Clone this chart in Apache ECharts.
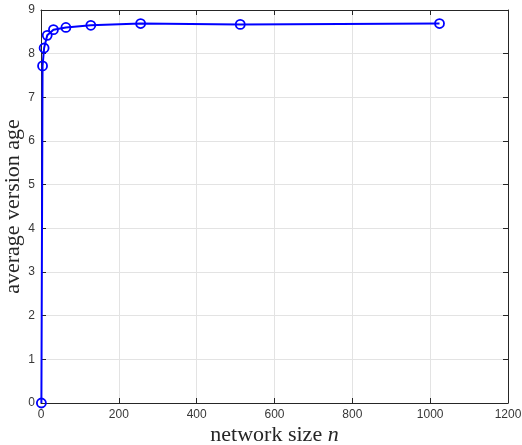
<!DOCTYPE html>
<html><head><meta charset="utf-8">
<script src="https://cdn.jsdelivr.net/npm/echarts@6/dist/echarts.min.js"></script>
<style>html,body{margin:0;padding:0;background:#fff}#c{width:522px;height:445px}</style>
</head><body><div id="c"></div>
<script>
const networkSize = [1, 4, 8, 16, 32, 64, 128, 256, 512, 1024];
const avgAge = [0, 7.72, 8.13, 8.42, 8.55, 8.6, 8.65, 8.69, 8.67, 8.69];
const xTicks = [0, 200, 400, 600, 800, 1000, 1200];
const yTicks = [0, 1, 2, 3, 4, 5, 6, 7, 8, 9];

const axisColor = '#262626';
const labelFont = {color: '#383838', fontSize: 12, fontFamily: 'Liberation Sans, Arial, sans-serif', formatter: v => String(v)};
const chart = echarts.init(document.getElementById('c'), null, {renderer: 'canvas'});
const baseX = {
  type: 'value', min: xTicks[0], max: xTicks[xTicks.length - 1], interval: 200,
  axisLine: {show: true, onZero: false, lineStyle: {color: axisColor, width: 1}},
  axisTick: {show: true, inside: true, length: 5, lineStyle: {color: axisColor}},
};
const baseY = {
  type: 'value', min: yTicks[0], max: yTicks[yTicks.length - 1], interval: 1,
  axisLine: {show: true, onZero: false, lineStyle: {color: axisColor, width: 1}},
  axisTick: {show: true, inside: true, length: 5, lineStyle: {color: axisColor}},
};
chart.setOption({
  animation: false,
  backgroundColor: '#fff',
  grid: {left: 41, right: 14, top: 10, bottom: 42, containLabel: false, outerBoundsMode: 'none'},
  xAxis: [
    Object.assign({}, baseX, {
      position: 'bottom',
      axisLabel: Object.assign({margin: 6}, labelFont),
      splitLine: {show: true, lineStyle: {color: '#e3e3e3', width: 1}},
      name: '{t|network size }{i|n}', nameLocation: 'middle', nameGap: 21, nameMoveOverlap: false,
      nameTextStyle: {rich: {
        t: {fontFamily: 'Liberation Serif, serif', fontSize: 22, color: axisColor},
        i: {fontFamily: 'Liberation Serif, serif', fontSize: 22, fontStyle: 'italic', color: axisColor}
      }}
    }),
    Object.assign({}, baseX, {
      position: 'top', axisLabel: {show: false}, splitLine: {show: false}
    })
  ],
  yAxis: [
    Object.assign({}, baseY, {
      position: 'left',
      axisLabel: Object.assign({margin: 6}, labelFont),
      splitLine: {show: true, lineStyle: {color: '#e3e3e3', width: 1}},
      name: 'average version age', nameLocation: 'middle', nameGap: 17, nameMoveOverlap: false,
      nameTextStyle: {fontFamily: 'Liberation Serif, serif', fontSize: 22, color: axisColor}
    }),
    Object.assign({}, baseY, {
      position: 'right', axisLabel: {show: false}, splitLine: {show: false}
    })
  ],
  series: [{
    type: 'line',
    data: networkSize.map((n, i) => [n, avgAge[i]]),
    lineStyle: {color: '#0000ff', width: 2},
    itemStyle: {color: 'rgba(255,255,255,0)', borderColor: '#0000ff', borderWidth: 1.8},
    symbol: 'circle', symbolSize: 9, showAllSymbol: true,
    z: 5
  }]
});
</script></body></html>
